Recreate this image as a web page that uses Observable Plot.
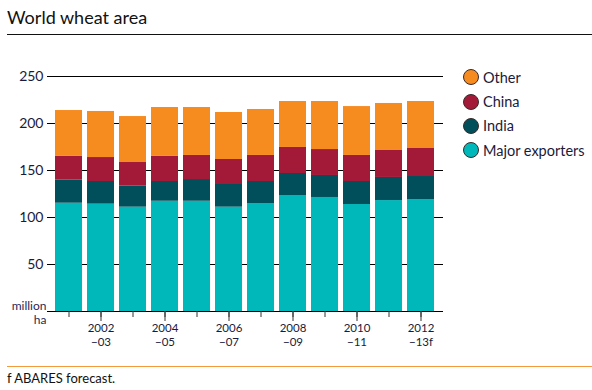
<!DOCTYPE html>
<html>
<head>
<meta charset="utf-8">
<script src="https://cdn.jsdelivr.net/npm/d3@7"></script>
<script src="https://cdn.jsdelivr.net/npm/@observablehq/plot@0.6"></script>
<style>
  html, body { margin: 0; padding: 0; background: #fff; }
  body { width: 592px; height: 390px; position: relative; overflow: hidden; font-family: Lato, "Open Sans", sans-serif; color: #1a1a3a; }
  #title { position: absolute; left: 7px; top: 6px; font-size: 18px; color: #111; }
  #rule { position: absolute; left: 7px; right: 0; top: 34px; height: 0; border-top: 1.5px solid #111; }
  #chart { position: absolute; left: 0; top: 40px; }
  #legend { position: absolute; left: 463px; top: 65px; }
  .item { height: 24.4px; display: flex; align-items: center; font-size: 14.5px; }
  .sw { width: 16px; height: 16px; border-radius: 50%; border: 1px solid #3a2a2a; margin-right: 4px; box-sizing: border-box; }
  #frule { position: absolute; left: 7px; right: 0; top: 366px; border-top: 1px solid #f39a3c; }
  #foot { position: absolute; left: 7px; top: 370px; font-size: 13px; color: #111; }
</style>
</head>
<body>
<div id="title">World wheat area</div>
<div id="rule"></div>
<div id="chart"></div>
<div id="legend"></div>
<div id="frule"></div>
<div id="foot">f ABARES forecast.</div>
<script>
const years = ["2001-02","2002-03","2003-04","2004-05","2005-06","2006-07","2007-08","2008-09","2009-10","2010-11","2011-12","2012-13"];
const tickLabels = {"2002-03":"2002\n\u221203","2004-05":"2004\n\u221205","2006-07":"2006\n\u221207","2008-09":"2008\n\u221209","2010-11":"2010\n\u221211","2012-13":"2012\n\u221213f"};
const majorExporters = [115.2, 114.2, 111.0, 117.3, 117.3, 111.0, 114.9, 123.4, 121.3, 113.8, 118.0, 119.1];
const india = [24.5, 24.1, 22.3, 21.0, 23.1, 24.1, 23.4, 23.4, 23.4, 24.5, 24.6, 24.5];
const china = [25.3, 25.5, 25.2, 26.7, 25.6, 26.6, 27.7, 27.7, 27.6, 27.7, 28.7, 29.8];
const other = [48.8, 49.0, 48.9, 52.0, 51.0, 50.0, 48.9, 48.9, 51.1, 52.0, 50.0, 50.0];
const seriesNames = ["Major exporters", "India", "China", "Other"];
const seriesColors = ["#00b7b9", "#004f5b", "#a31a38", "#f68b20"];
const legendOrder = ["Other", "China", "India", "Major exporters"];

const seriesValues = [majorExporters, india, china, other];
const data = [];
years.forEach((y, i) => {
  seriesNames.forEach((s, j) => data.push({year: y, series: s, value: seriesValues[j][i]}));
});

const textColor = "#1a1a3a";
const chart = Plot.plot({
  width: 592,
  height: 320,
  marginLeft: 47,
  marginRight: 149,
  marginTop: 36,
  marginBottom: 49,
  style: {fontFamily: "Lato, 'Open Sans', sans-serif", color: textColor, background: "transparent"},
  x: {domain: years, range: [46.5, 441.5], paddingInner: 0.168, paddingOuter: 0.17, label: null},
  y: {domain: [0, 250], label: null},
  color: {domain: seriesNames, range: seriesColors},
  marks: [
    Plot.ruleY([50, 100, 150, 200, 250], {stroke: "#000", strokeWidth: 1.2}),
    Plot.barY(data, {x: "year", y: "value", fill: "series", order: seriesNames}),
    Plot.ruleY([0], {stroke: "#000", strokeWidth: 1.2}),
    Plot.axisY({ticks: [50, 100, 150, 200, 250], tickSize: 0, tickPadding: 4, fontSize: 14, fill: textColor, label: null}),
    Plot.axisX({tickSize: 6, tickFormat: () => "", stroke: "#333", label: null}),
    Plot.axisX({ticks: Object.keys(tickLabels), tickSize: 10, tickPadding: 1, tickFormat: d => tickLabels[d], fontSize: 11.5, lineHeight: 1.22, stroke: "#333", fill: textColor, label: null}),
    Plot.text(["million\nha"], {frameAnchor: "bottom-left", textAnchor: "end", lineAnchor: "top", dx: -1, dy: -12, lineHeight: 1.2, fontSize: 12, fill: "#2a1f55"})
  ]
});
document.getElementById("chart").appendChild(chart);

const legend = document.getElementById("legend");
legendOrder.forEach(name => {
  const item = document.createElement("div");
  item.className = "item";
  const sw = document.createElement("span");
  sw.className = "sw";
  sw.style.background = seriesColors[seriesNames.indexOf(name)];
  const label = document.createElement("span");
  label.textContent = name;
  item.appendChild(sw);
  item.appendChild(label);
  legend.appendChild(item);
});
</script>
</body>
</html>
